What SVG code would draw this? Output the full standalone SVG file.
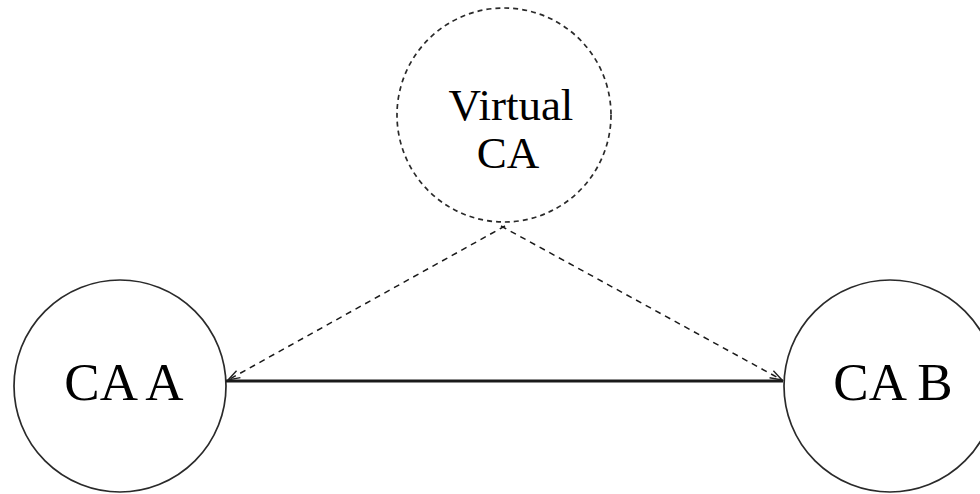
<svg xmlns="http://www.w3.org/2000/svg" width="980" height="494" viewBox="0 0 980 494">
  <style>
    .node { fill: #ffffff; stroke: #2a2a2a; stroke-width: 1.7; }
    .dashed { stroke-dasharray: 5 4; }
    .label { font-family: "Liberation Serif", "Times New Roman", serif; fill: #000000; text-anchor: middle; }
    .link { fill: none; stroke: #1a1a1a; }
  </style>
  <defs>
    <marker id="arrow" markerUnits="userSpaceOnUse" markerWidth="16" markerHeight="12" refX="13" refY="6" orient="auto" viewBox="0 0 16 12">
      <path d="M1,2 L13,6 L1,10" fill="none" stroke="#222222" stroke-width="1.4"/>
    </marker>
  </defs>
  <rect width="980" height="494" fill="#ffffff"/>

  <g id="virtual-ca">
    <circle class="node dashed" cx="504" cy="115" r="107"/>
    <text class="label" x="511" y="120" font-size="45">Virtual</text>
    <text class="label" x="508" y="168" font-size="45">CA</text>
  </g>

  <g id="ca-a">
    <circle class="node" cx="120" cy="386" r="106"/>
    <text class="label" x="124" y="400" font-size="53">CA A</text>
  </g>

  <g id="ca-b">
    <circle class="node" cx="890" cy="386" r="106"/>
    <text class="label" x="893" y="400" font-size="53">CA B</text>
  </g>

  <g id="connectors">
    <line class="link" x1="226" y1="381" x2="783" y2="381" stroke-width="3"/>
    <line class="link" x1="505" y1="226" x2="228" y2="380" stroke-width="1.5" stroke-dasharray="6 5" marker-end="url(#arrow)"/>
    <line class="link" x1="501" y1="226" x2="782" y2="380" stroke-width="1.5" stroke-dasharray="6 5" marker-end="url(#arrow)"/>
  </g>
</svg>
